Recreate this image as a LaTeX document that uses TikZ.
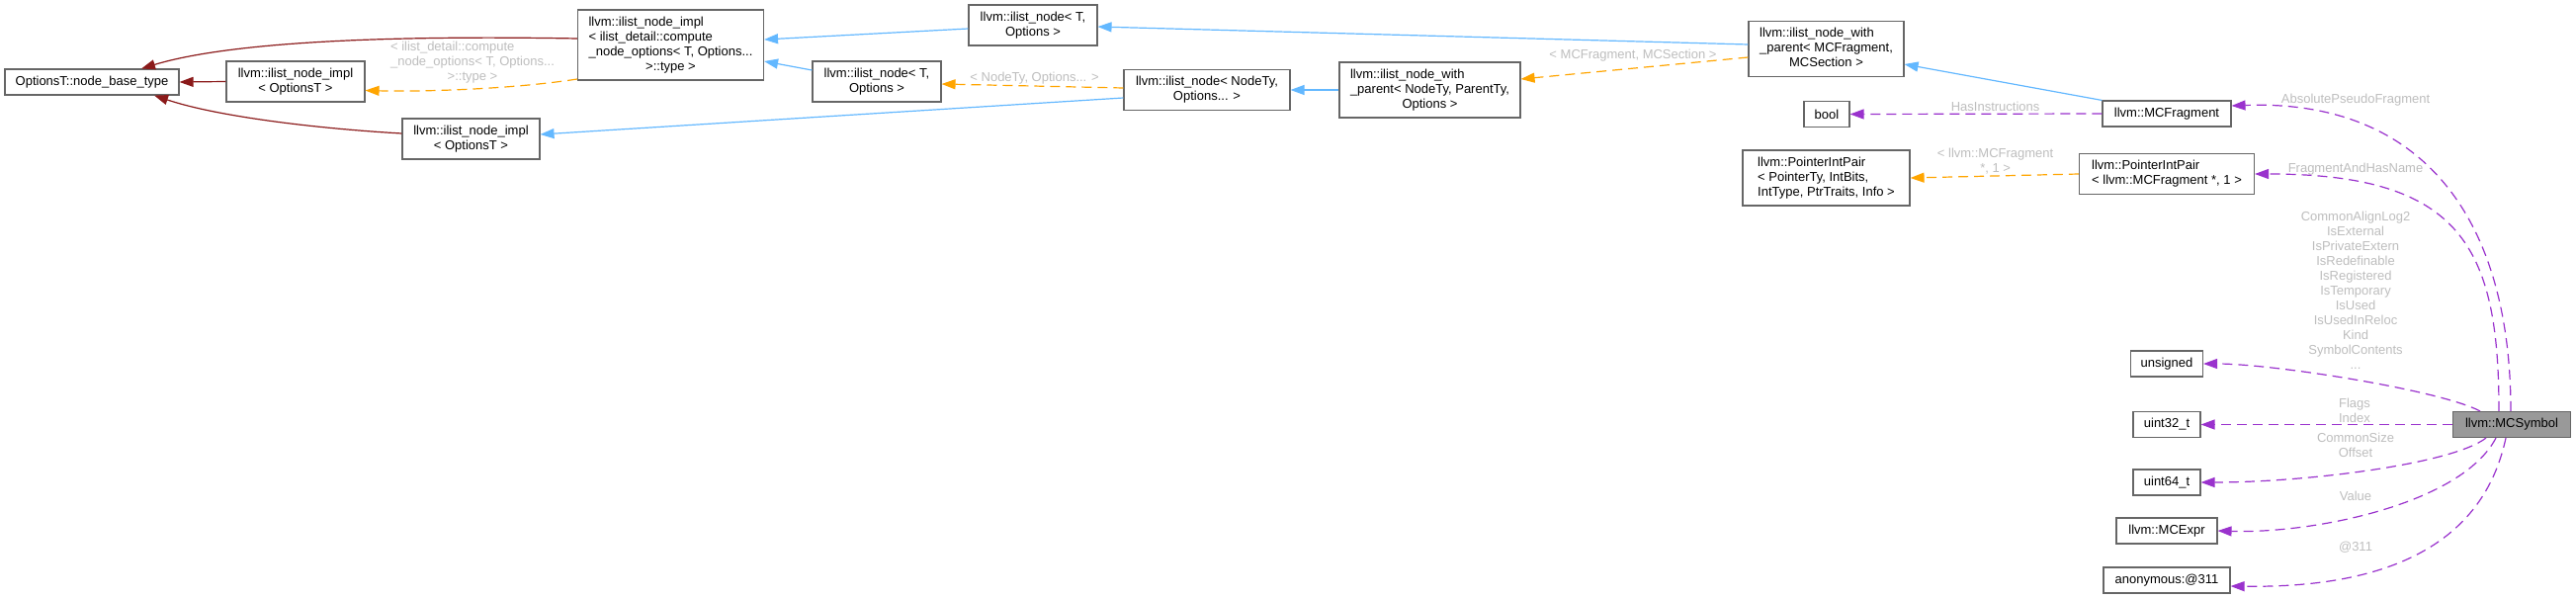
\documentclass[tikz,border=0pt]{standalone}
\usepackage{fontspec}
\setmainfont{Liberation Sans}
\usetikzlibrary{arrows.meta}
\definecolor{eblue}{HTML}{63B8FF}
\definecolor{ered}{HTML}{8B1A1A}
\definecolor{eorange}{HTML}{FFA500}
\definecolor{epurple}{HTML}{9A32CD}
\definecolor{lblgray}{HTML}{BEBEBE}
\definecolor{nodeborder}{HTML}{666666}
\definecolor{symfill}{HTML}{999999}
\newcommand{\mcl}[1]{\multicolumn{1}{@{}c@{}}{#1}}
\begin{document}
\begin{tikzpicture}[x=1pt,y=-1pt,
  box/.style={draw=nodeborder, line width=1.1pt, fill=white, inner sep=0pt,
    font=\fontsize{13}{15}\selectfont, minimum height=26pt},
  lbl/.style={text=lblgray, inner sep=0pt, align=center, font=\fontsize{13}{15}\selectfont},
  edgebase/.style={line width=1.2pt, -{Triangle[length=14pt,width=10pt]}},
  bedge/.style={edgebase, draw=eblue},
  redge/.style={edgebase, draw=ered},
  oedge/.style={edgebase, draw=eorange, dash pattern=on 10pt off 6pt},
  pedge/.style={edgebase, draw=epurple, dash pattern=on 10pt off 6pt}]
\fill[white] (0,0) rectangle (2606,605);
\useasboundingbox (0,0) rectangle (2606,605);

% nodes
\node[box, minimum width=176pt] (nbt) at (93,83) {OptionsT::node\_base\_type};
\node[box, minimum width=140pt, minimum height=41pt, align=center] (impl1) at (299,82.5) {llvm::ilist\_node\_impl\\< OptionsT >};
\node[box, minimum width=139pt, minimum height=41pt, align=center] (impl2) at (476.5,140.5) {llvm::ilist\_node\_impl\\< OptionsT >};
\node[box, minimum width=188pt, minimum height=71pt] (implc) at (678.5,45.5) {\begin{tabular}{@{}l@{}}llvm::ilist\_node\_impl\\< ilist\_detail::compute\\\_node\_options< T, Options...\\\mcl{>::type >}\end{tabular}};
\node[box, minimum width=130pt, minimum height=41pt, align=center] (nodeT1) at (1045,25.5) {llvm::ilist\_node< T,\\Options >};
\node[box, minimum width=130pt, minimum height=41pt, align=center] (nodeT2) at (887,82.5) {llvm::ilist\_node< T,\\Options >};
\node[box, minimum width=168pt, minimum height=41pt, align=center] (nodeNT) at (1221,91) {llvm::ilist\_node< NodeTy,\\Options... >};
\node[box, minimum width=183pt, minimum height=56pt] (wpNT) at (1446.5,91) {\begin{tabular}{@{}l@{}}llvm::ilist\_node\_with\\\_parent< NodeTy, ParentTy,\\\mcl{Options >}\end{tabular}};
\node[box, minimum width=157pt, minimum height=56pt] (wpMC) at (1847.5,49.5) {\begin{tabular}{@{}l@{}}llvm::ilist\_node\_with\\\_parent< MCFragment,\\\mcl{MCSection >}\end{tabular}};
\node[box, minimum width=46pt] (bool) at (1848,115.5) {bool};
\node[box, minimum width=130pt] (frag) at (2192,115) {llvm::MCFragment};
\node[box, minimum width=169pt, minimum height=56pt] (pipT) at (1847.5,180) {\begin{tabular}{@{}l@{}}llvm::PointerIntPair\\< PointerTy, IntBits,\\\mcl{IntType, PtrTraits, Info >}\end{tabular}};
\node[box, minimum width=177pt, minimum height=41pt] (pipMC) at (2192,176) {\begin{tabular}{@{}l@{}}llvm::PointerIntPair\\\mcl{< llvm::MCFragment *, 1 >}\end{tabular}};
\node[box, minimum width=73pt] (unsig) at (2192,368) {unsigned};
\node[box, minimum width=68pt] (u32) at (2192,429.5) {uint32\_t};
\node[box, minimum width=119pt, fill=symfill] (sym) at (2541,429.5) {llvm::MCSymbol};
\node[box, minimum width=68pt] (u64) at (2192,488) {uint64\_t};
\node[box, minimum width=102pt] (mcexpr) at (2192,537) {llvm::MCExpr};
\node[box, minimum width=128pt] (anon) at (2192,587) {anonymous:@311};

% labels
\node[lbl] (l1) at (478,63.5) {\begin{tabular}{@{}l@{}}< ilist\_detail::compute\\\_node\_options< T, Options...\\\mcl{>::type >}\end{tabular}};
\node[lbl] (l2) at (1046.6,79) {< NodeTy, Options... >};
\node[lbl] (l3) at (1652,55.7) {< MCFragment, MCSection >};
\node[lbl] (l4) at (2018.6,107.7) {HasInstructions};
\node[lbl] (l5) at (2018.6,164) {\begin{tabular}{@{}l@{}}< llvm::MCFragment\\\mcl{*, 1 >}\end{tabular}};
\node[lbl] (l6) at (2383,101.3) {AbsolutePseudoFragment};
\node[lbl] (l7) at (2383,170.7) {FragmentAndHasName};
\node[lbl] (l8) at (2383,293.6) {CommonAlignLog2\\IsExternal\\IsPrivateExtern\\IsRedefinable\\IsRegistered\\IsTemporary\\IsUsed\\IsUsedInReloc\\Kind\\SymbolContents\\...};
\node[lbl] (l9) at (2382,415) {Flags\\Index};
\node[lbl] (l10) at (2383,450.5) {CommonSize\\Offset};
\node[lbl] (l11) at (2383,501.7) {Value};
\node[lbl] (l12) at (2383,554) {@311};

% edges
\draw[redge] ([yshift=6.5pt]implc.west) .. controls (420,36) and (240,40) .. ([xshift=50pt]nbt.north);
\draw[redge] (impl1.west) -- (nbt.east);
\draw[redge] ([yshift=5.5pt]impl2.west) .. controls (320,130) and (220,118) .. ([xshift=63pt]nbt.south);
\draw[oedge] ([yshift=-34.5pt]implc.west) .. controls (520,90) and (430,93) .. ([yshift=-9pt]impl1.east);
\draw[bedge] ([yshift=-3.5pt]nodeT1.west) -- ([yshift=5.5pt]implc.east);
\draw[bedge] ([yshift=11.5pt]nodeT2.west) -- ([yshift=-16.5pt]implc.east);
\draw[oedge] ([yshift=2pt]nodeNT.west) -- ([yshift=-2.5pt]nodeT2.east);
\draw[bedge] ([yshift=-8pt]nodeNT.west) -- ([yshift=4.5pt]impl2.east);
\draw[bedge] (wpNT.west) -- (nodeNT.east);
\draw[bedge] ([yshift=4.5pt]wpMC.west) -- ([yshift=-1.5pt]nodeT1.east);
\draw[oedge] ([yshift=-8.5pt]wpMC.west) -- ([yshift=11pt]wpNT.east);
\draw[bedge] (frag.north west) -- ([yshift=-15.5pt]wpMC.east);
\draw[pedge] (frag.west) -- (bool.east);
\draw[oedge] (pipMC.west) -- (pipT.east);
\draw[pedge] ([xshift=-1pt]sym.north) .. controls (2540,220) and (2450,100) .. ([yshift=8pt]frag.east);
\draw[pedge] ([xshift=-13pt]sym.north) .. controls (2528,250) and (2490,176) .. (pipMC.east);
\draw[pedge] ([xshift=-32pt]sym.north) .. controls (2470,395) and (2300,368) .. (unsig.east);
\draw[pedge] (sym.west) -- (u32.east);
\draw[pedge] ([xshift=-26pt]sym.south) .. controls (2480,470) and (2330,488) .. (u64.east);
\draw[pedge] ([xshift=-16pt]sym.south) .. controls (2490,510) and (2340,540) .. (mcexpr.east);
\draw[pedge] ([xshift=-6pt]sym.south) .. controls (2510,560) and (2400,595) .. ([yshift=-6pt]anon.east);
\end{tikzpicture}
\end{document}
